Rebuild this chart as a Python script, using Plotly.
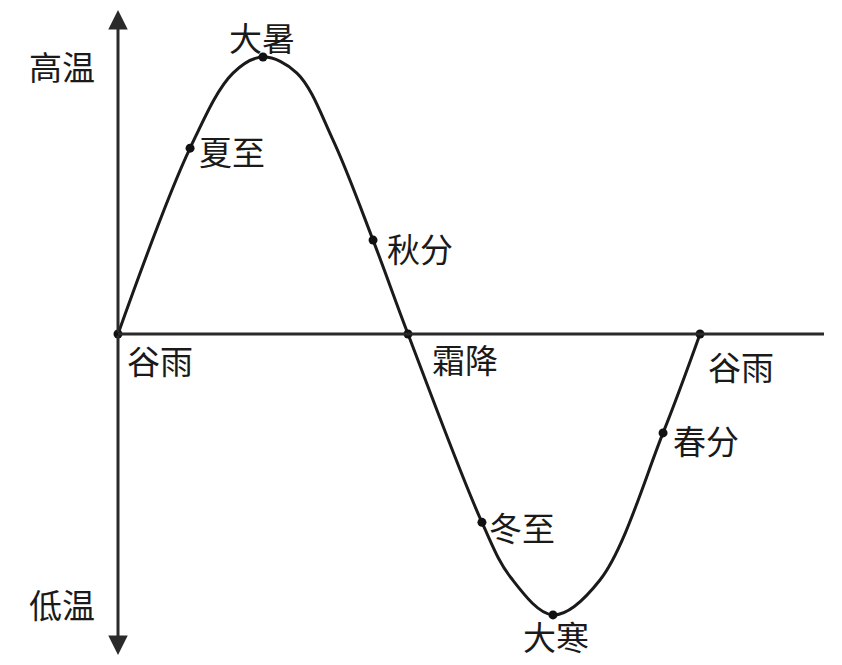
import plotly.graph_objects as go

# Key solar-term points (x: time units, y: relative temperature)
term_names = ["谷雨", "夏至", "大暑", "秋分", "霜降", "冬至", "大寒", "春分", "谷雨"]
term_x = [0.0, 0.497, 1.0, 1.759, 2.0, 2.51, 3.0, 3.759, 4.014]
term_y = [0.0, 0.671, 1.0, 0.339, 0.0, -0.68, -1.014, -0.357, 0.0]

# Curve samples (for the smooth line)
curve_x = [0.0, 0.497, 0.793, 1.0, 1.234, 1.483, 1.759,
           2.0, 2.51, 2.71, 3.0, 3.324, 3.759, 4.014]
curve_y = [0.0, 0.671, 0.942, 1.0, 0.942, 0.700, 0.339,
           0.0, -0.68, -0.880, -1.014, -0.888, -0.357, 0.0]

axis_labels = ["高温", "低温"]

D = 8                 # page body margin offset
W, H = 842 - D, 665 - D
X0, XS = 118 - D, 145.0   # pixel origin / scale used for axis ranges
Y0, YS = 334 - D, 277.0

fig = go.Figure()
fig.add_trace(go.Scatter(x=curve_x, y=curve_y, mode="lines",
                         line=dict(color="#1a1a1a", width=3, shape="spline", smoothing=1.0),
                         hoverinfo="skip", showlegend=False))
fig.add_trace(go.Scatter(x=term_x, y=term_y, mode="markers",
                         marker=dict(color="#111", size=9),
                         text=term_names, showlegend=False))

# horizontal axis line
fig.add_shape(type="line", x0=0, x1=(824 - 118) / XS, y0=0, y1=0,
              line=dict(color="#2a2a2a", width=3))
# vertical axis with arrows at both ends
for y_end in [(334 - 10) / YS, (334 - 655) / YS]:
    fig.add_annotation(x=0, y=y_end, ax=0, ay=0, axref="x", ayref="y",
                       xref="x", yref="y", text="", showarrow=True,
                       arrowhead=2, arrowsize=1.3, arrowwidth=3, arrowcolor="#2a2a2a")

font = dict(family="Noto Sans CJK SC", size=33, color="#1a1a1a")
label_px = [(160, 360), (232, 151), (262, 37), (420, 248), (465, 359),
            (522, 527), (556, 636), (706, 440), (741, 366)]
for name, (px, py) in zip(term_names, label_px):
    fig.add_annotation(x=(px - D) / W, y=1 - (py - D) / H, xref="paper", yref="paper",
                       text=name, showarrow=False, font=font,
                       xanchor="center", yanchor="middle")
for name, (px, py) in zip(axis_labels, [(62, 66), (62, 604)]):
    fig.add_annotation(x=(px - D) / W, y=1 - (py - D) / H, xref="paper", yref="paper",
                       text=name, showarrow=False, font=font,
                       xanchor="center", yanchor="middle")

fig.update_layout(
    width=W, height=H,
    margin=dict(l=0, r=0, t=0, b=0),
    paper_bgcolor="white", plot_bgcolor="white",
    xaxis=dict(range=[-X0 / XS, (W - X0) / XS], visible=False, fixedrange=True),
    yaxis=dict(range=[(Y0 - H) / YS, Y0 / YS], visible=False, fixedrange=True),
    showlegend=False,
)
fig.write_html("out.html")
